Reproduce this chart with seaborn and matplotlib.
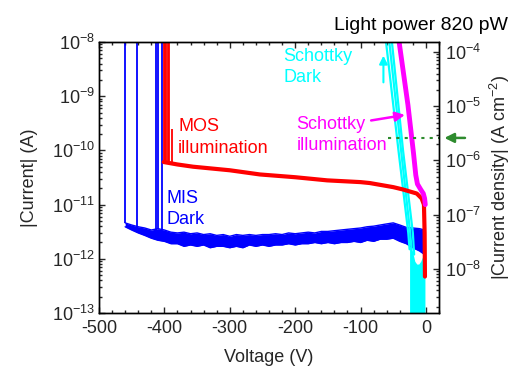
import matplotlib
matplotlib.use("Agg")
import matplotlib.pyplot as plt
import numpy as np
import pandas as pd
import seaborn as sns
from matplotlib.ticker import LogLocator, MultipleLocator

# MIS dark: breakdown voltages and the noisy floor (upper / lower envelope)
mis_breakdown_v = [-460, -442, -413, -410, -404]
mis_breakdown_floor = [4.5e-12, 3.9e-12, 3.4e-12, 3.5e-12, 3.4e-12]
mis_v = [-460, -450, -440, -430, -420, -410, -400, -390, -380, -370, -360, -350,
         -340, -330, -320, -310, -300, -290, -280, -270, -260, -250, -240, -230,
         -220, -210, -200, -190, -180, -170, -160, -150, -140, -130, -120, -110,
         -100, -90, -80, -70, -60, -50, -40, -30, -20, -10, -2]
mis_hi = [4.6, 4.2, 3.9, 3.7, 3.4, 3.6, 3.4, 3.1, 3.0, 3.1, 2.9, 3.0,
          2.8, 2.9, 2.7, 2.8, 2.6, 2.8, 2.7, 2.8, 2.7, 2.8, 2.8, 2.9,
          2.8, 3.0, 2.9, 3.0, 3.1, 3.0, 3.2, 3.2, 3.3, 3.4, 3.5, 3.6,
          3.7, 3.9, 4.0, 4.2, 4.4, 4.6, 4.2, 3.8, 3.7, 3.6, 3.4]
mis_lo = [3.9, 3.4, 3.0, 2.7, 2.4, 2.2, 2.1, 1.9, 1.9, 1.7, 1.8, 1.7,
          1.8, 1.6, 1.7, 1.7, 1.6, 1.7, 1.6, 1.8, 1.7, 1.8, 1.7, 1.8,
          1.8, 1.9, 1.8, 1.9, 1.9, 2.0, 1.9, 2.0, 1.9, 2.0, 2.0, 2.1,
          2.0, 2.2, 2.1, 2.3, 2.3, 2.4, 2.1, 1.9, 1.6, 1.4, 1.2]

# MOS illumination
mos_breakdown_v = [-401, -399, -397, -395, -393]
mos_breakdown_floor = [6.4e-11, 6.2e-11, 6.1e-11, 6.0e-11, 5.9e-11]
mos_spike_v = -388
mos_spike_top = 2.5e-10
mos_v = [-401, -380, -356, -300, -254, -200, -151, -100, -86, -50, -35, -14,
         -6.6, -3, -2, -1.5]
mos_i = [6.1e-11, 5.5e-11, 5.0e-11, 4.3e-11, 3.6e-11, 3.2e-11, 2.8e-11, 2.6e-11,
         2.5e-11, 2.1e-11, 1.9e-11, 1.6e-11, 1.3e-11, 1.0e-11, 3e-12, 4.7e-13]

# Schottky illumination
sch_ill_v = [-41, -27.5, -19, -15.5, -13, -8, -4, -2, -1]
sch_ill_i = [1e-8, 6.9e-10, 8.9e-11, 3.5e-11, 2.4e-11, 1.9e-11, 1.6e-11, 1.3e-11, 1.0e-11]

# Schottky dark: three sweeps and the noise at the bottom
sch_dark_sweeps = {
    "s1": ([-61, -42, -27, -25], [1e-8, 1e-10, 3e-12, 1.5e-12]),
    "s2": ([-56, -38, -24, -22], [1e-8, 1e-10, 3e-12, 1.5e-12]),
    "s3": ([-52, -35, -20, -18], [1e-8, 1e-10, 3e-12, 1.2e-12]),
}
sch_noise_v = [-25, -22, -20, -17, -14, -11, -8, -5, -3, -1.5]
sch_noise_hi = [2.5e-12, 1.6e-12, 1.3e-12, 9e-13, 8e-13, 8e-13, 9e-13, 1.1e-12, 1.2e-12, 9e-13]

marker_level = 1.7e-10  # green dotted level
area_factor = 1.53e4    # current -> current density

sns.set_theme(style="ticks")
plt.rcParams.update({
    "font.family": ["Liberation Sans", "DejaVu Sans"],
    "mathtext.fontset": "custom",
    "mathtext.rm": "Liberation Sans",
    "mathtext.it": "Liberation Sans:italic",
    "mathtext.bf": "Liberation Sans:bold",
    "axes.unicode_minus": False,
    "font.size": 13,
})

fig = plt.figure(figsize=(5.15, 3.72), dpi=100)
ax = fig.add_axes([99 / 515, 59 / 372, 340 / 515, 271 / 372])
ax.set_yscale("log")
ax.set_xlim(-500, 20)
ax.set_ylim(1e-13, 1e-8)

# MIS dark
ax.fill_between(mis_v, np.array(mis_lo) * 1e-12, np.array(mis_hi) * 1e-12,
                color="#0000FF", lw=0)
ax.plot(mis_v, np.array(mis_hi) * 1e-12, color="#0000FF", lw=1)
ax.plot(mis_v, np.array(mis_lo) * 1e-12, color="#0000FF", lw=1)
ax.vlines(mis_breakdown_v, mis_breakdown_floor, 1e-8, color="#0000FF", lw=1.3)

# Schottky dark
dark_df = pd.concat([pd.DataFrame({"V": v, "I": i, "sweep": k})
                     for k, (v, i) in sch_dark_sweeps.items()])
sns.lineplot(data=dark_df, x="V", y="I", units="sweep", estimator=None, sort=False,
             color="#00FFFF", lw=1.6, ax=ax)
ax.fill_between(sch_noise_v, 1e-15, sch_noise_hi, color="#00FFFF", lw=0)

# MOS illumination
ax.vlines(mos_breakdown_v, mos_breakdown_floor, 1e-8, color="#FF0000", lw=1.3)
ax.vlines(mos_spike_v, mos_breakdown_floor[-1], mos_spike_top, color="#FF0000", lw=1.3)
mos_df = pd.DataFrame({"V": mos_v, "I": mos_i})
sns.lineplot(data=mos_df, x="V", y="I", estimator=None, sort=False,
             color="#FF0000", lw=3, ax=ax)

# Schottky illumination
ill_df = pd.DataFrame({"V": sch_ill_v, "I": sch_ill_i})
sns.lineplot(data=ill_df, x="V", y="I", estimator=None, sort=False,
             color="#FF00FF", lw=3.5, ax=ax)

# markers and arrows
ax.hlines(marker_level, -58, 20, color="#2E8B2E", lw=1.5, linestyles=(0, (1.5, 2.5)))
ax.annotate("", xy=(24, marker_level), xytext=(64, marker_level),
            arrowprops=dict(arrowstyle="-|>", color="#2E8B2E", lw=1.8, mutation_scale=14),
            annotation_clip=False)
ax.annotate("", xy=(-28, 4.6e-10), xytext=(-88, 3.5e-10),
            arrowprops=dict(arrowstyle="-|>", color="#FF00FF", lw=1.8, mutation_scale=14))
ax.annotate("", xy=(-65, 6.3e-9), xytext=(-65, 1.6e-9),
            arrowprops=dict(arrowstyle="-|>", color="#00FFFF", lw=1.5, mutation_scale=12))

ax.text(-379, 2.3e-10, "MOS", color="#FF0000", fontsize=13)
ax.text(-379, 8.9e-11, "illumination", color="#FF0000", fontsize=13)
ax.text(-397, 1.07e-11, "MIS", color="#0000FF", fontsize=13)
ax.text(-397, 4.4e-12, "Dark", color="#0000FF", fontsize=13)
ax.text(-198, 2.5e-10, "Schottky", color="#FF00FF", fontsize=13)
ax.text(-198, 1.0e-10, "illumination", color="#FF00FF", fontsize=13)
ax.text(-218, 4.4e-9, "Schottky", color="#00FFFF", fontsize=13)
ax.text(-218, 1.86e-9, "Dark", color="#00FFFF", fontsize=13)

fig.text(508 / 515, 1 - 30 / 372, "Light power 820 pW", ha="right", va="baseline",
         fontsize=14, color="black")

ax.set_xlabel("Voltage (V)", fontsize=13, labelpad=9)
ax.set_ylabel("|Current| (A)", fontsize=13, labelpad=10)
ax.xaxis.set_major_locator(MultipleLocator(100))
ax.xaxis.set_minor_locator(MultipleLocator(20))
ax.yaxis.set_major_locator(LogLocator(base=10, numticks=10))
ax.yaxis.set_minor_locator(LogLocator(base=10, subs=np.arange(2, 10), numticks=10))
ax.tick_params(which="both", direction="in", top=True, right=False, labelsize=13, width=1)
ax.tick_params(which="major", length=4.5)
ax.tick_params(which="minor", length=2.5)
ax.tick_params(axis="y", pad=3)
ax.tick_params(axis="x", pad=5)

ax2 = ax.twinx()
ax2.set_yscale("log")
ax2.set_ylim(1e-13 * area_factor, 1e-8 * area_factor)
ax2.yaxis.set_major_locator(LogLocator(base=10, numticks=10))
ax2.yaxis.set_minor_locator(LogLocator(base=10, subs=np.arange(2, 10), numticks=10))
ax2.tick_params(which="both", direction="in", labelsize=13, width=1, pad=4)
ax2.tick_params(which="major", length=4.5)
ax2.tick_params(which="minor", length=2.5)
ax2.set_ylabel("|Current density| (A cm$^{-2}$)", fontsize=13, labelpad=5)

for a in (ax, ax2):
    for s in a.spines.values():
        s.set_visible(True)
        s.set_linewidth(1)
        s.set_color("black")

fig.savefig("out.png", dpi=100)
